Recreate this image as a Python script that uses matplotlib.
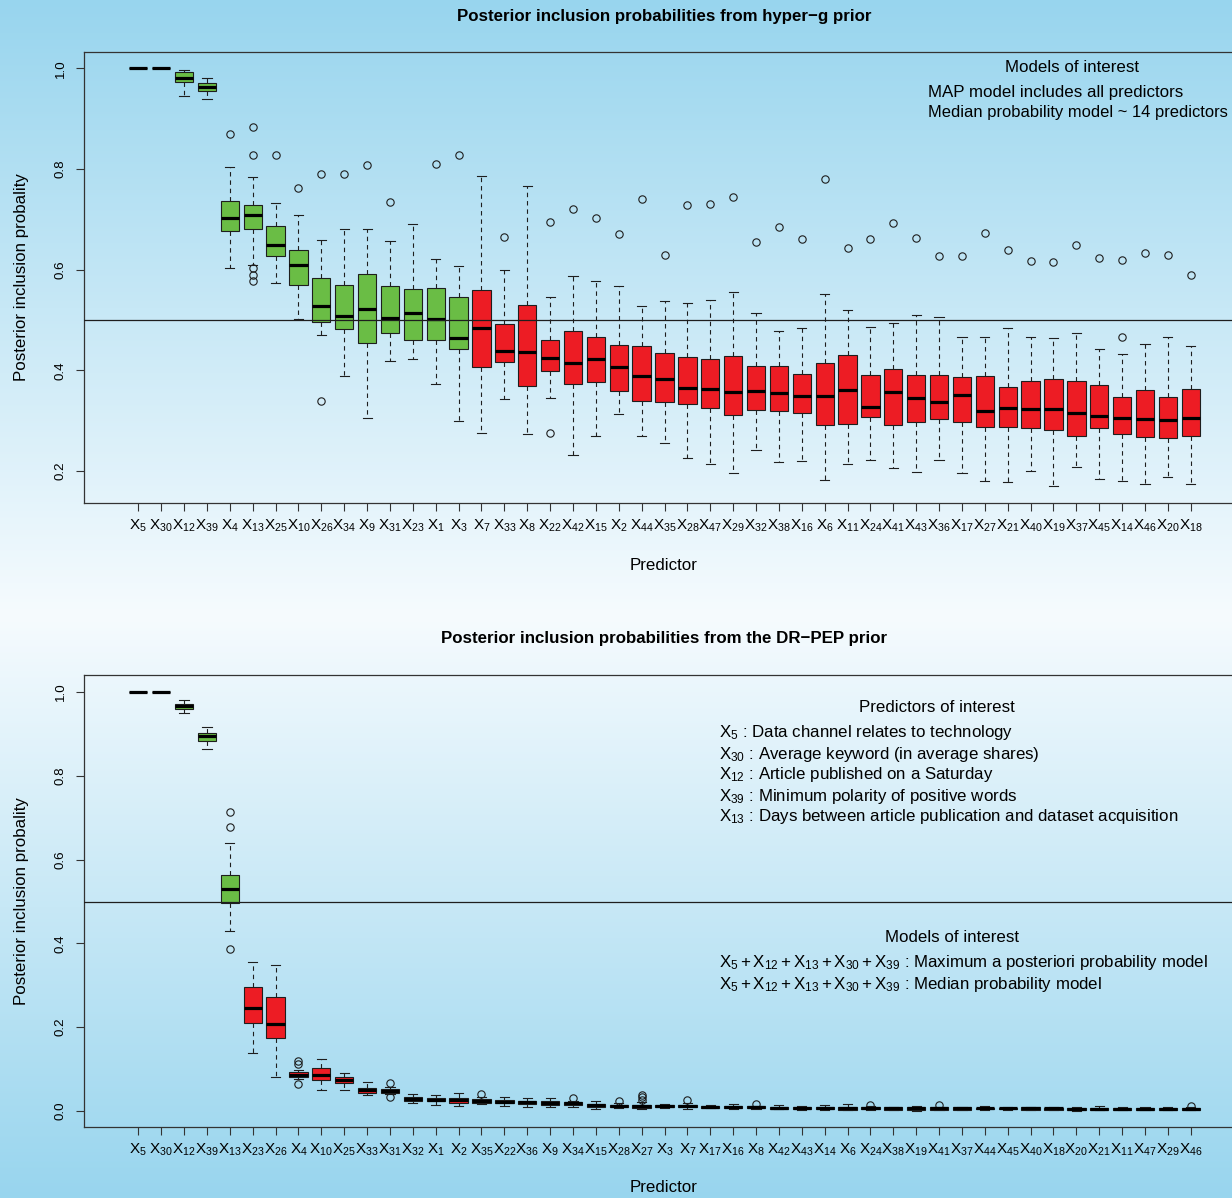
import numpy as np
import matplotlib
matplotlib.use("Agg")
import matplotlib.pyplot as plt

plt.rcParams['font.family'] = ['Liberation Sans', 'DejaVu Sans']
plt.rcParams['mathtext.fontset'] = 'custom'
plt.rcParams['mathtext.rm'] = 'Liberation Sans'
plt.rcParams['mathtext.it'] = 'Liberation Sans:italic'
plt.rcParams['mathtext.bf'] = 'Liberation Sans:bold'

# ---------------- data: hyper-g prior ----------------
top_labels = ['5', '30', '12', '39', '4', '13', '25', '10', '26', '34', '9', '31', '23', '1', '3',
              '7', '33', '8', '22', '42', '15', '2', '44', '35', '28', '47', '29', '32', '38', '16',
              '6', '11', '24', '41', '43', '36', '17', '27', '21', '40', '19', '37', '45', '14',
              '46', '20', '18']
top_n_green = 15
top_whislo = [1.0, 1.0, 0.946, 0.940, 0.603, 0.610, 0.573, 0.502, 0.471, 0.389, 0.305, 0.419, 0.422,
              0.373, 0.299, 0.276, 0.343, 0.273, 0.346, 0.232, 0.270, 0.313, 0.269, 0.255, 0.226,
              0.215, 0.197, 0.243, 0.218, 0.221, 0.182, 0.215, 0.222, 0.207, 0.199, 0.223, 0.196,
              0.180, 0.179, 0.201, 0.170, 0.208, 0.185, 0.181, 0.174, 0.189, 0.175]
top_q1 = [1.0, 1.0, 0.973, 0.956, 0.678, 0.681, 0.628, 0.570, 0.497, 0.482, 0.455, 0.475, 0.460,
          0.461, 0.442, 0.406, 0.416, 0.370, 0.398, 0.373, 0.377, 0.360, 0.340, 0.338, 0.334,
          0.325, 0.311, 0.322, 0.319, 0.316, 0.292, 0.294, 0.308, 0.292, 0.297, 0.304, 0.298,
          0.287, 0.287, 0.285, 0.281, 0.270, 0.285, 0.274, 0.267, 0.265, 0.269]
top_med = [1.0, 1.0, 0.980, 0.963, 0.702, 0.708, 0.650, 0.610, 0.528, 0.508, 0.522, 0.505, 0.514,
           0.502, 0.465, 0.484, 0.439, 0.436, 0.424, 0.414, 0.422, 0.407, 0.390, 0.383, 0.365,
           0.363, 0.357, 0.360, 0.355, 0.349, 0.349, 0.361, 0.328, 0.358, 0.345, 0.337, 0.351,
           0.320, 0.325, 0.324, 0.323, 0.315, 0.309, 0.305, 0.304, 0.301, 0.306]
top_q3 = [1.0, 1.0, 0.992, 0.972, 0.736, 0.729, 0.687, 0.639, 0.583, 0.570, 0.592, 0.567, 0.562,
          0.563, 0.545, 0.560, 0.493, 0.530, 0.461, 0.479, 0.467, 0.450, 0.448, 0.434, 0.426,
          0.422, 0.428, 0.408, 0.409, 0.393, 0.414, 0.431, 0.391, 0.402, 0.392, 0.392, 0.387,
          0.389, 0.368, 0.380, 0.384, 0.379, 0.371, 0.347, 0.361, 0.347, 0.364]
top_whishi = [1.0, 1.0, 0.997, 0.980, 0.804, 0.784, 0.732, 0.708, 0.659, 0.682, 0.682, 0.657, 0.690,
              0.621, 0.607, 0.786, 0.600, 0.766, 0.546, 0.587, 0.577, 0.567, 0.529, 0.539, 0.534,
              0.541, 0.556, 0.515, 0.479, 0.485, 0.552, 0.520, 0.487, 0.494, 0.510, 0.507, 0.466,
              0.466, 0.484, 0.466, 0.465, 0.475, 0.442, 0.432, 0.453, 0.467, 0.449]
top_fliers = [[], [], [], [], [0.869], [0.884, 0.828, 0.603, 0.590, 0.577], [0.829], [0.762],
              [0.791, 0.340], [0.791], [0.809], [0.735], [], [0.811], [0.828], [], [0.666], [],
              [0.695, 0.275], [0.721], [0.702], [0.672], [0.741], [0.630], [0.728], [0.730],
              [0.745], [0.655], [0.686], [0.661], [0.780], [0.643], [0.661], [0.692], [0.663],
              [0.627], [0.627], [0.674], [0.639], [0.618], [0.616], [0.650], [0.624],
              [0.620, 0.467], [0.633], [0.629], [0.590]]

# ---------------- data: DR-PEP prior ----------------
bot_labels = ['5', '30', '12', '39', '13', '23', '26', '4', '10', '25', '33', '31', '32', '1', '2',
              '35', '22', '36', '9', '34', '15', '28', '27', '3', '7', '17', '16', '8', '42', '43',
              '14', '6', '24', '38', '19', '41', '37', '44', '45', '40', '18', '20', '21', '11',
              '47', '29', '46']
bot_n_green = 5
bot_whislo = [1.0, 1.0, 0.950, 0.864, 0.429, 0.138, 0.081, 0.076, 0.049, 0.050, 0.039, 0.040, 0.018,
              0.015, 0.012, 0.016, 0.012, 0.0105, 0.0105, 0.010, 0.004, 0.0065, 0.004, 0.0065,
              0.004, 0.0065, 0.004, 0.005, 0.004, 0.003, 0.003, 0.002, 0.003, 0.002, 0.001, 0.002,
              0.002, 0.002, 0.003, 0.002, 0.002, 0.001, 0.002, 0.002, 0.002, 0.002, 0.002]
bot_q1 = [1.0, 1.0, 0.959, 0.884, 0.497, 0.211, 0.175, 0.081, 0.073, 0.067, 0.043, 0.044, 0.024,
          0.023, 0.020, 0.020, 0.018, 0.017, 0.015, 0.015, 0.0105, 0.009, 0.008, 0.009, 0.009,
          0.008, 0.0065, 0.0065, 0.005, 0.0045, 0.0045, 0.003, 0.0045, 0.003, 0.002, 0.003,
          0.003, 0.004, 0.004, 0.003, 0.003, 0.003, 0.003, 0.003, 0.003, 0.003, 0.003]
bot_med = [1.0, 1.0, 0.966, 0.894, 0.530, 0.246, 0.208, 0.087, 0.086, 0.074, 0.0495, 0.048, 0.028,
           0.027, 0.026, 0.024, 0.0215, 0.021, 0.020, 0.018, 0.0136, 0.012, 0.011, 0.012, 0.012,
           0.0105, 0.009, 0.009, 0.008, 0.0075, 0.0075, 0.007, 0.007, 0.006, 0.006, 0.006, 0.006,
           0.006, 0.006, 0.006, 0.006, 0.005, 0.005, 0.005, 0.005, 0.005, 0.005]
bot_q3 = [1.0, 1.0, 0.972, 0.903, 0.563, 0.296, 0.272, 0.093, 0.102, 0.081, 0.056, 0.053, 0.033,
          0.032, 0.032, 0.028, 0.026, 0.025, 0.024, 0.0215, 0.017, 0.015, 0.015, 0.0145, 0.015,
          0.013, 0.012, 0.012, 0.0105, 0.0105, 0.0105, 0.0105, 0.0097, 0.009, 0.010, 0.009,
          0.009, 0.008, 0.008, 0.009, 0.008, 0.008, 0.008, 0.008, 0.008, 0.008, 0.007]
bot_whishi = [1.0, 1.0, 0.980, 0.916, 0.639, 0.356, 0.348, 0.099, 0.123, 0.090, 0.069, 0.058, 0.041,
              0.038, 0.044, 0.033, 0.034, 0.030, 0.031, 0.025, 0.023, 0.019, 0.0215, 0.0176, 0.018,
              0.015, 0.0176, 0.013, 0.0145, 0.012, 0.0145, 0.017, 0.011, 0.010, 0.013, 0.010,
              0.010, 0.012, 0.009, 0.010, 0.009, 0.010, 0.012, 0.009, 0.010, 0.009, 0.009]
bot_fliers = [[], [], [], [], [0.714, 0.677, 0.386], [], [], [0.1195, 0.112, 0.064], [], [], [],
              [0.067, 0.034], [], [], [], [0.040], [], [], [], [0.031], [], [0.025],
              [0.038, 0.033, 0.027], [], [0.026], [], [], [0.016], [], [], [], [], [0.0145], [],
              [], [0.014], [], [], [], [], [], [], [], [], [], [], [0.0125]]

# ---------------- figure ----------------
W, H = 1232, 1198
fig = plt.figure(figsize=(W / 100, H / 100), dpi=100)

# background gradient (blue -> white -> blue)
blue = np.array([152, 213, 238]) / 255.0
light = np.array([246, 251, 254]) / 255.0
ys = np.arange(H)
mid = 615.0
t = np.where(ys < mid, (mid - ys) / mid, (ys - mid) / (H - mid))
grad = light[None, :] * (1 - t[:, None]) + blue[None, :] * t[:, None]
bg = fig.add_axes([0, 0, 1, 1], zorder=-10)
bg.imshow(grad[:, None, :], aspect='auto', extent=[0, 1, 0, 1], interpolation='bilinear')
bg.axis('off')

GREEN = '#6abd45'
RED = '#ed1c24'
EDGE = '#1e1e1e'


def px2fx(x):
    return x / W


def px2fy(y):
    return 1 - y / H


def panel(rect, labels, wl, q1, med, q3, wh, fl, n_green, yticks, title, title_y, xlab_y):
    ax = fig.add_axes(rect)
    ax.set_facecolor('none')
    n = len(labels)
    stats = []
    for i in range(n):
        stats.append(dict(whislo=wl[i], q1=q1[i], med=med[i], q3=q3[i], whishi=wh[i],
                          fliers=fl[i], label=labels[i]))
    pos = list(range(1, n + 1))
    art = ax.bxp(stats, positions=pos, widths=0.8, capwidths=0.4, patch_artist=True,
                 showfliers=True,
                 boxprops=dict(edgecolor=EDGE, linewidth=0.8),
                 medianprops=dict(color='black', linewidth=2.3, solid_capstyle='butt'),
                 whiskerprops=dict(color=EDGE, linewidth=0.8, linestyle=(0, (4, 3.5))),
                 capprops=dict(color=EDGE, linewidth=0.8),
                 flierprops=dict(marker='o', markerfacecolor='none', markeredgecolor=EDGE,
                                 markersize=5.3, markeredgewidth=0.8))
    for i, b in enumerate(art['boxes']):
        b.set_facecolor(GREEN if i < n_green else RED)
    allv = list(wl) + list(wh) + [v for f in fl for v in f]
    lo, hi = min(allv), max(allv)
    r = hi - lo
    ax.set_ylim(lo - 0.04 * r, hi + 0.04 * r)
    ax.set_xlim(0.5 - 0.04 * n, n + 0.5 + 0.04 * n)
    ax.axhline(0.5, color=EDGE, linewidth=0.9, zorder=5)
    ax.set_xticks(pos)
    ax.set_xticklabels([r'$\mathrm{X}_{%s}$' % l for l in labels], fontsize=11)
    ax.set_yticks(yticks)
    ax.set_yticklabels(['%.1f' % v for v in yticks], rotation=90, va='center', fontsize=9.6)
    ax.tick_params(axis='both', direction='out', length=5.5, width=0.8, color='#333333')
    ax.tick_params(axis='y', pad=7)
    ax.tick_params(axis='x', pad=5)
    ax.spines['right'].set_visible(False)
    for s in ['left', 'top', 'bottom']:
        ax.spines[s].set_color('#333333')
        ax.spines[s].set_linewidth(0.9)
    # titles / labels
    fig.text(px2fx(664), px2fy(title_y), title, ha='center', va='center', fontsize=12.2,
             fontweight='bold')
    fig.text(px2fx(664), px2fy(xlab_y), 'Predictor', ha='center', va='center', fontsize=12.2)
    ycen = (1 - (rect[1] + rect[3] / 2)) * H
    fig.text(px2fx(22), px2fy(ycen), 'Posterior inclusion probality', rotation=90,
             ha='center', va='center', fontsize=12.2)
    return ax


left = 83.85 / W
width = (1245.2 - 83.85) / W
top_rect = [left, px2fy(503), width, (503 - 51.7) / H]
bot_rect = [left, px2fy(1127.3), width, (1127.3 - 675.3) / H]

panel(top_rect, top_labels, top_whislo, top_q1, top_med, top_q3, top_whishi, top_fliers,
      top_n_green, [0.2, 0.4, 0.6, 0.8, 1.0],
      'Posterior inclusion probabilities from hyper\u2212g prior', 16, 565)
panel(bot_rect, bot_labels, bot_whislo, bot_q1, bot_med, bot_q3, bot_whishi, bot_fliers,
      bot_n_green, [0.0, 0.2, 0.4, 0.6, 0.8, 1.0],
      'Posterior inclusion probabilities from the DR\u2212PEP prior', 638, 1188)

FS = 12.2
# top legend
fig.text(px2fx(1072), px2fy(68), 'Models of interest', ha='center', va='center', fontsize=FS)
fig.text(px2fx(928), px2fy(92), 'MAP model includes all predictors', ha='left', va='center',
         fontsize=FS)
fig.text(px2fx(928), px2fy(113), 'Median probability model ~ 14 predictors', ha='left',
         va='center', fontsize=11.9)

# bottom legends
fig.text(px2fx(937), px2fy(707), 'Predictors of interest', ha='center', va='center', fontsize=FS)
pred_lines = [r'$\mathrm{X}_{5}$ : Data channel relates to technology',
              r'$\mathrm{X}_{30}$ : Average keyword (in average shares)',
              r'$\mathrm{X}_{12}$ : Article published on a Saturday',
              r'$\mathrm{X}_{39}$ : Minimum polarity of positive words',
              r'$\mathrm{X}_{13}$ : Days between article publication and dataset acquisition']
for k, s in enumerate(pred_lines):
    fig.text(px2fx(719), px2fy(733 + 21 * k), s, ha='left', va='center', fontsize=FS)

fig.text(px2fx(952), px2fy(937), 'Models of interest', ha='center', va='center', fontsize=FS)
mod = r'$\mathrm{X}_{5}+\mathrm{X}_{12}+\mathrm{X}_{13}+\mathrm{X}_{30}+\mathrm{X}_{39}$'
fig.text(px2fx(719), px2fy(963), mod + ' : Maximum a posteriori probability model', ha='left',
         va='center', fontsize=FS)
fig.text(px2fx(719), px2fy(984), mod + ' : Median probability model', ha='left', va='center',
         fontsize=FS)

fig.savefig('out.png', dpi=100)
